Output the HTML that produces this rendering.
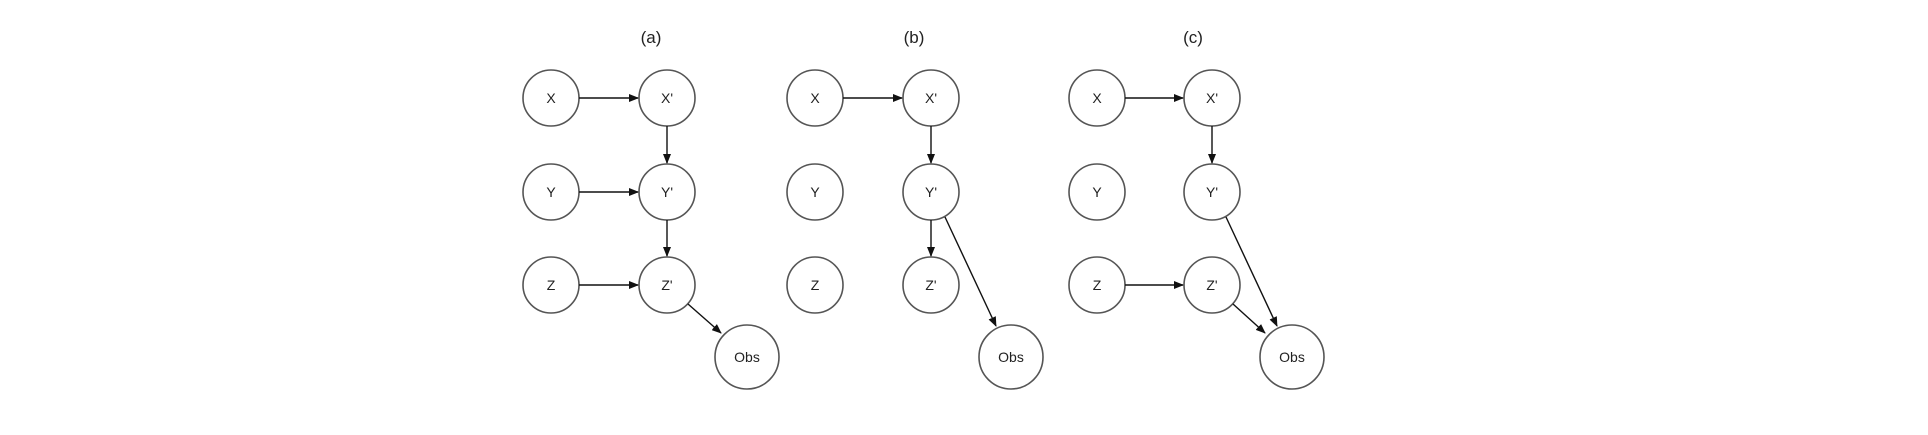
<!DOCTYPE html>
<html><head><meta charset="utf-8"><style>
html,body{margin:0;padding:0;background:#fff;}
svg text{font-family:"Liberation Sans",sans-serif;fill:#222;}
</style></head><body>
<svg width="1928" height="430" viewBox="0 0 1928 430" xmlns="http://www.w3.org/2000/svg">
<defs>
<marker id="ar" markerWidth="10" markerHeight="8" refX="9" refY="4" orient="auto" markerUnits="userSpaceOnUse">
<path d="M0,0 L10,4 L0,8 z" fill="#111"/>
</marker>
</defs>
<g stroke="#555" stroke-width="1.6" fill="#fff">
<!-- a -->
<circle cx="551" cy="98" r="28"/><circle cx="667" cy="98" r="28"/>
<circle cx="551" cy="192" r="28"/><circle cx="667" cy="192" r="28"/>
<circle cx="551" cy="285" r="28"/><circle cx="667" cy="285" r="28"/>
<circle cx="747" cy="357" r="32"/>
<!-- b -->
<circle cx="815" cy="98" r="28"/><circle cx="931" cy="98" r="28"/>
<circle cx="815" cy="192" r="28"/><circle cx="931" cy="192" r="28"/>
<circle cx="815" cy="285" r="28"/><circle cx="931" cy="285" r="28"/>
<circle cx="1011" cy="357" r="32"/>
<!-- c -->
<circle cx="1097" cy="98" r="28"/><circle cx="1212" cy="98" r="28"/>
<circle cx="1097" cy="192" r="28"/><circle cx="1212" cy="192" r="28"/>
<circle cx="1097" cy="285" r="28"/><circle cx="1212" cy="285" r="28"/>
<circle cx="1292" cy="357" r="32"/>
</g>
<g stroke="#111" stroke-width="1.4" fill="none" marker-end="url(#ar)">
<line x1="579" y1="98" x2="638" y2="98"/>
<line x1="667" y1="126" x2="667" y2="163"/>
<line x1="579" y1="192" x2="638" y2="192"/>
<line x1="667" y1="220" x2="667" y2="256"/>
<line x1="579" y1="285" x2="638" y2="285"/>
<line x1="688" y1="304" x2="721" y2="333"/>
<line x1="843" y1="98" x2="902" y2="98"/>
<line x1="931" y1="126" x2="931" y2="163"/>
<line x1="931" y1="220" x2="931" y2="256"/>
<line x1="945" y1="217" x2="996" y2="326"/>
<line x1="1125" y1="98" x2="1183" y2="98"/>
<line x1="1212" y1="126" x2="1212" y2="163"/>
<line x1="1125" y1="285" x2="1183" y2="285"/>
<line x1="1226" y1="217" x2="1277" y2="326"/>
<line x1="1233" y1="304" x2="1265" y2="333"/>
</g>
<g font-size="14" text-anchor="middle">
<text x="651" y="43" font-size="17">(a)</text>
<text x="914" y="43" font-size="17">(b)</text>
<text x="1193" y="43" font-size="17">(c)</text>
<text x="551" y="103">X</text><text x="667" y="103">X'</text>
<text x="551" y="197">Y</text><text x="667" y="197">Y'</text>
<text x="551" y="290">Z</text><text x="667" y="290">Z'</text>
<text x="747" y="362">Obs</text>
<text x="815" y="103">X</text><text x="931" y="103">X'</text>
<text x="815" y="197">Y</text><text x="931" y="197">Y'</text>
<text x="815" y="290">Z</text><text x="931" y="290">Z'</text>
<text x="1011" y="362">Obs</text>
<text x="1097" y="103">X</text><text x="1212" y="103">X'</text>
<text x="1097" y="197">Y</text><text x="1212" y="197">Y'</text>
<text x="1097" y="290">Z</text><text x="1212" y="290">Z'</text>
<text x="1292" y="362">Obs</text>
</g>
</svg>
</body></html>
